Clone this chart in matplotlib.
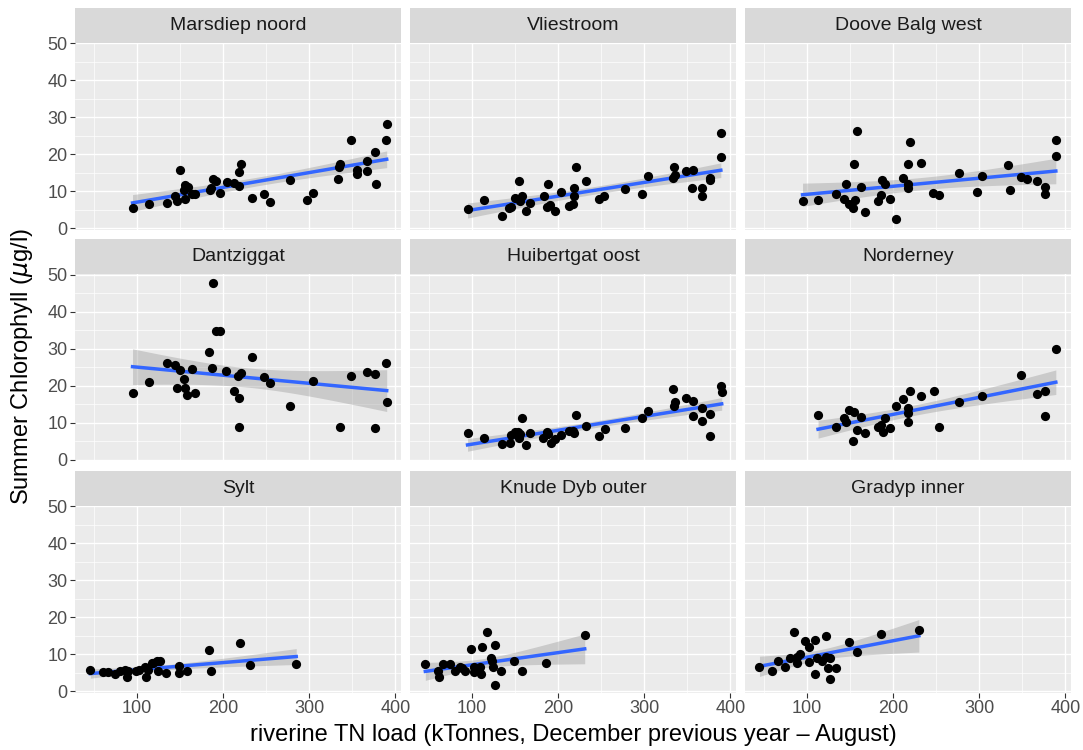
import numpy as np
import matplotlib
matplotlib.use("Agg")
import matplotlib.pyplot as plt
from matplotlib.ticker import FixedLocator

plt.rcParams['font.family'] = ['Liberation Sans', 'DejaVu Sans']
plt.rcParams['mathtext.fontset'] = 'dejavusans'

# panel titles, in facet order
stations = ["Marsdiep noord", "Vliestroom", "Doove Balg west",
            "Dantziggat", "Huibertgat oost", "Norderney",
            "Sylt", "Knude Dyb outer", "Gradyp inner"]

# riverine TN load (x) and summer chlorophyll (y)
marsdiep_x = [95, 114, 135, 144, 147, 150, 156, 159, 155, 156, 164, 168, 185, 188,
              192, 186, 196, 205, 213, 218, 218, 221, 234, 247, 254, 278, 298, 304,
              333, 335, 336, 349, 356, 356, 367, 367, 377, 378, 389, 390]
marsdiep_y = [5.6, 6.7, 6.8, 8.8, 7.3, 15.8, 11.7, 11.1, 10.3, 7.9, 9.2, 9.4, 10.5, 13.3,
              12.7, 10.8, 9.6, 12.5, 12.4, 11.4, 15.3, 17.3, 8.3, 9.3, 7.2, 13.2, 7.6, 9.6,
              13.3, 16.6, 17.4, 24.0, 15.7, 14.8, 18.1, 15.5, 20.7, 12.1, 23.9, 28.1]

vliestroom_x = [95, 114, 135, 143, 146, 150, 155, 156, 158, 163, 167, 184, 187, 188,
                191, 196, 204, 213, 217, 218, 218, 221, 233, 248, 253, 278, 298, 304,
                333, 335, 336, 348, 357, 356, 367, 367, 377, 377, 389, 389]
vliestroom_y = [5.3, 7.6, 3.4, 5.4, 5.8, 8.1, 12.8, 7.4, 8.7, 4.8, 6.9, 8.7, 5.8, 12.0,
                6.3, 4.8, 9.8, 6.1, 6.7, 10.9, 8.8, 16.5, 12.7, 8.0, 8.8, 10.7, 9.2, 14.1,
                13.5, 16.5, 14.4, 15.6, 15.7, 10.8, 10.8, 8.8, 13.7, 13.2, 19.2, 25.8]

doove_x = [95, 113, 134, 143, 146, 149, 154, 156, 155, 158, 163, 167, 183, 186,
           187, 191, 196, 204, 212, 217, 217, 217, 220, 233, 246, 253, 277, 297,
           303, 334, 336, 348, 356, 367, 376, 376, 389, 389]
doove_y = [7.4, 7.8, 9.3, 7.9, 12.0, 6.7, 5.4, 7.7, 17.3, 26.4, 11.1, 4.5, 7.5, 9.1,
           13.0, 11.9, 8.0, 2.6, 13.5, 11.9, 10.9, 17.5, 23.3, 17.6, 9.5, 9.1, 15.0, 9.9,
           14.2, 17.1, 10.5, 13.8, 13.3, 12.9, 11.2, 9.4, 19.5, 24.0]

dantziggat_x = [95, 114, 135, 144, 147, 150, 155, 156, 158, 164, 168, 184, 187, 188,
                192, 196, 204, 213, 217, 218, 218, 221, 234, 248, 254, 278, 304, 336,
                349, 367, 377, 377, 389, 390]
dantziggat_y = [18.2, 21.0, 26.1, 25.7, 19.5, 24.2, 21.8, 19.3, 17.5, 24.6, 18.1, 29.3, 24.8, 47.9,
                34.9, 34.9, 23.9, 18.5, 22.6, 16.7, 9.0, 23.6, 27.8, 22.5, 20.9, 14.7, 21.2, 8.8,
                22.6, 23.8, 23.2, 8.5, 26.3, 15.6]

huibertgat_x = [95, 114, 135, 144, 146, 150, 154, 156, 155, 158, 163, 167, 183, 187,
                188, 192, 196, 204, 213, 217, 218, 221, 233, 247, 254, 278, 298, 304,
                333, 335, 336, 349, 357, 357, 367, 367, 377, 377, 389, 390]
huibertgat_y = [7.3, 6.0, 4.2, 4.5, 6.8, 7.6, 7.6, 6.9, 5.9, 11.2, 3.9, 7.2, 5.8, 7.6,
                6.9, 4.7, 5.7, 6.7, 7.7, 7.9, 7.2, 12.1, 9.1, 6.4, 8.4, 8.5, 11.4, 13.3,
                19.1, 14.6, 15.6, 16.8, 15.9, 11.8, 14.0, 10.6, 12.3, 6.4, 20.1, 18.3]

norderney_x = [113, 134, 143, 146, 149, 155, 154, 158, 163, 167, 183, 186, 188, 191,
               196, 204, 212, 217, 217, 217, 220, 233, 247, 253, 277, 303, 348, 367,
               377, 376, 389]
norderney_y = [12.1, 9.0, 11.2, 10.3, 13.6, 12.9, 5.1, 8.2, 11.5, 7.3, 8.8, 9.4, 7.6, 11.3,
               8.5, 14.6, 16.5, 14.1, 12.6, 10.3, 18.7, 17.4, 18.7, 9.0, 15.6, 17.3, 23.0, 17.7,
               18.5, 11.9, 29.9]

sylt_x = [46, 61, 67, 75, 81, 86, 89, 90, 99, 103, 110, 111, 113, 118, 119, 123,
          127, 124, 134, 149, 149, 158, 184, 186, 220, 231, 285]
sylt_y = [5.9, 5.2, 5.2, 4.8, 5.4, 5.9, 3.8, 5.4, 5.6, 5.8, 6.5, 3.9, 5.7, 7.6, 7.8, 8.1,
          8.3, 5.4, 4.9, 6.9, 4.9, 5.4, 11.1, 5.4, 13.0, 7.1, 7.4]

knude_x = [46, 61, 62, 67, 75, 81, 86, 88, 92, 99, 102, 102, 108, 110, 111, 112,
           118, 122, 123, 124, 127, 127, 134, 149, 158, 186, 231]
knude_y = [7.4, 5.4, 3.8, 7.5, 7.4, 5.4, 6.7, 6.3, 5.4, 11.5, 6.6, 5.2, 5.6, 6.6, 4.8, 12.0,
           16.1, 9.0, 8.1, 6.7, 12.6, 1.8, 5.6, 8.1, 5.4, 7.6, 15.3]

gradyp_x = [45, 60, 67, 75, 81, 85, 88, 88, 92, 98, 102, 103, 110, 110, 112, 118,
            122, 122, 124, 127, 127, 134, 149, 158, 186, 230]
gradyp_y = [6.7, 5.4, 8.1, 6.7, 9.0, 16.1, 7.6, 9.3, 10.2, 13.7, 7.9, 12.1, 13.8, 4.6, 8.9, 8.1,
            15.1, 9.2, 6.3, 9.1, 3.3, 6.3, 13.4, 10.7, 15.6, 16.7]

panels = [(marsdiep_x, marsdiep_y), (vliestroom_x, vliestroom_y), (doove_x, doove_y),
          (dantziggat_x, dantziggat_y), (huibertgat_x, huibertgat_y), (norderney_x, norderney_y),
          (sylt_x, sylt_y), (knude_x, knude_y), (gradyp_x, gradyp_y)]


def t975(df):
    # close approximation of the 97.5% t quantile
    return 1.96 + 2.37/df + 2.8/df**2


def lm_band(x, y, n=80):
    x = np.asarray(x, float)
    y = np.asarray(y, float)
    b, a = np.polyfit(x, y, 1)
    xs = np.linspace(x.min(), x.max(), n)
    fit = a + b*xs
    res = y - (a + b*x)
    dof = len(x) - 2
    s = np.sqrt(np.sum(res**2)/dof)
    sxx = np.sum((x - x.mean())**2)
    se = s*np.sqrt(1/len(x) + (xs - x.mean())**2/sxx)
    return xs, fit, fit - t975(dof)*se, fit + t975(dof)*se


W, H = 1083, 750
fig = plt.figure(figsize=(W/100, H/100), dpi=100)

col_left = [75, 410, 745]
row_top = [42.5, 274, 505.5]
pw, ph, sh = 326, 187, 34.5

for i, (name, (x, y)) in enumerate(zip(stations, panels)):
    r, c = divmod(i, 3)
    l, t = col_left[c], row_top[r]
    ax = fig.add_axes([l/W, 1 - (t + ph)/H, pw/W, ph/H])
    ax.set_facecolor('#EBEBEB')
    for sp in ax.spines.values():
        sp.set_visible(False)
    ax.set_xlim(28.2, 406.6)
    ax.set_ylim(-0.3, 50.25)
    ax.xaxis.set_major_locator(FixedLocator([100, 200, 300, 400]))
    ax.xaxis.set_minor_locator(FixedLocator([50, 150, 250, 350]))
    ax.yaxis.set_major_locator(FixedLocator([0, 10, 20, 30, 40, 50]))
    ax.yaxis.set_minor_locator(FixedLocator([5, 15, 25, 35, 45]))
    ax.grid(which='major', color='white', linewidth=1.0)
    ax.grid(which='minor', color='white', linewidth=0.5)
    ax.set_axisbelow(True)
    ax.tick_params(which='minor', length=0)
    ax.tick_params(which='major', length=3.5, width=0.8, color='#333333',
                   labelcolor='#4D4D4D', labelsize=13, pad=2)
    if c != 0:
        ax.tick_params(axis='y', left=False, labelleft=False)
    if r != 2:
        ax.tick_params(axis='x', bottom=False, labelbottom=False)

    xs, fit, lo, hi = lm_band(x, y)
    ax.fill_between(xs, lo, hi, color='#999999', alpha=0.4, linewidth=0, zorder=2)
    ax.plot(xs, fit, color='#3366FF', linewidth=2.5, zorder=3)
    ax.scatter(x, y, s=44, color='black', linewidths=0, zorder=4)

    sax = fig.add_axes([l/W, 1 - t/H, pw/W, sh/H])
    sax.set_facecolor('#D9D9D9')
    sax.set_xticks([])
    sax.set_yticks([])
    for sp in sax.spines.values():
        sp.set_visible(False)
    sax.text(0.5, 0.5, name, ha='center', va='center', fontsize=14,
             color='#1A1A1A', transform=sax.transAxes)

fig.text(573/W, 1 - 735/H, 'riverine TN load (kTonnes, December previous year \u2013 August)',
         ha='center', va='center', fontsize=17, color='black')
fig.text(22/W, 1 - 367/H, r'Summer Chlorophyll ($\mu$g/l)', ha='center', va='center',
         rotation=90, fontsize=17, color='black')

fig.savefig('out.png', dpi=100)
